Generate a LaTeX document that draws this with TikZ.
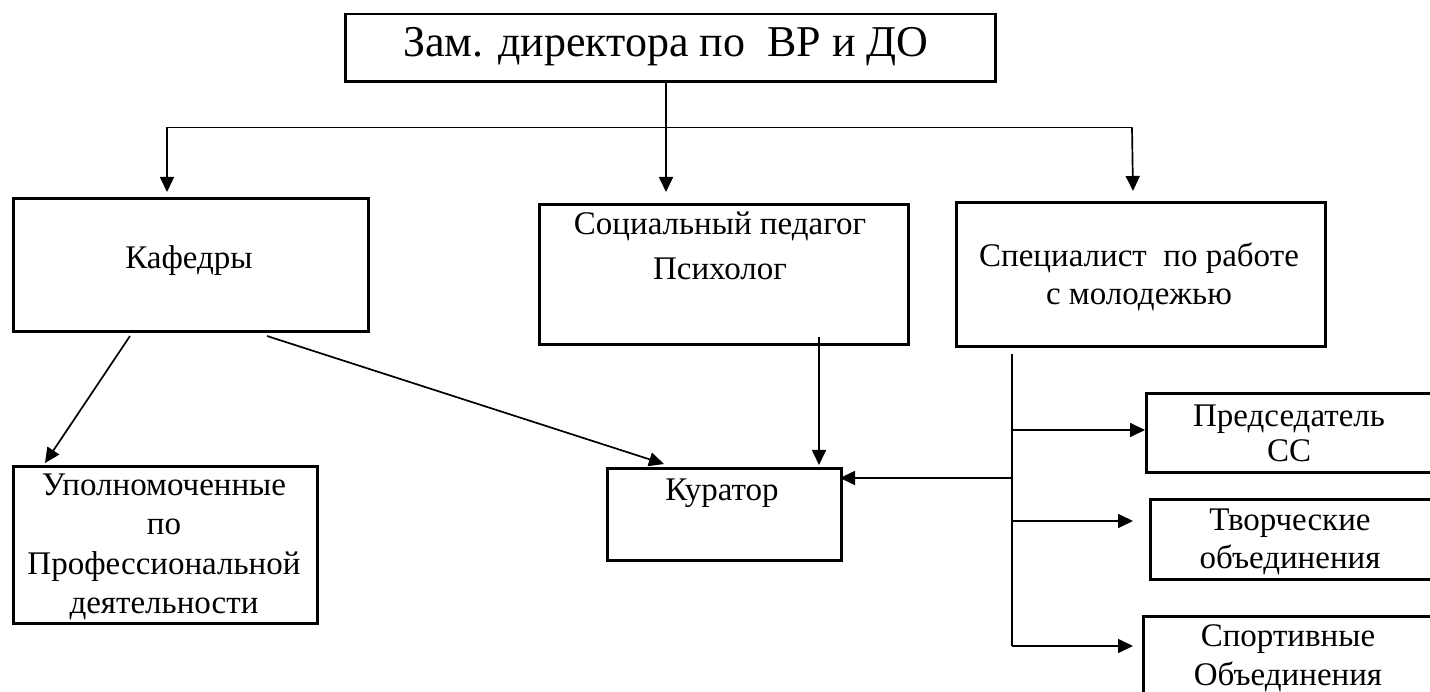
\documentclass[tikz,border=0pt]{standalone}
\usepackage{fontspec}
\setmainfont{Liberation Serif}
\usetikzlibrary{arrows.meta}
\begin{document}
\begin{tikzpicture}[x=1pt,y=-1pt,
  box/.style={draw=black,line width=2.6pt,rectangle,inner sep=0pt,anchor=north west},
  txt/.style={align=center,inner sep=0pt,font=\fontsize{33}{39}\selectfont},
  conn/.style={draw=black,line width=1.7pt},
  arr/.style={conn,-{Triangle[length=15pt,width=14pt]}}]
\useasboundingbox (0,0) rectangle (1430,692);
\fill[white] (0,0) rectangle (1430,692);
% boxes
\node[box,minimum width=650pt,minimum height=67.3pt] (top) at (344,12.7) {};
\node[box,minimum width=355pt,minimum height=133.5pt] (kaf) at (12,197) {};
\node[box,minimum width=369pt,minimum height=140pt] (soc) at (538,203) {};
\node[box,minimum width=369pt,minimum height=144pt] (spec) at (955,201) {};
\node[box,minimum width=304pt,minimum height=157pt] (upol) at (12,465) {};
\node[box,minimum width=234pt,minimum height=92pt] (kur) at (606,467) {};
\node[box,minimum width=300pt,minimum height=79pt] (pred) at (1145,392) {};
\node[box,minimum width=300pt,minimum height=80pt] (tvor) at (1149,498) {};
\node[box,minimum width=300pt,minimum height=90pt] (sport) at (1142,615) {};
% texts
\node[txt,font=\fontsize{44}{50}\selectfont] (ttop) at (666,47) {Зам. директора по\ \ ВР и ДО};
\node[txt] (tkaf) at (189,261) {Кафедры};
\node[txt,font=\fontsize{33}{45}\selectfont] (tsoc) at (720,246) {Социальный педагог\\Психолог};
\node[txt,font=\fontsize{33}{38}\selectfont] (tspec) at (1139,277) {Специалист\ \ по работе\\с молодежью};
\node[txt,font=\fontsize{33}{39.3}\selectfont] (tupol) at (164,547) {Уполномоченные\\по\\Профессиональной\\деятельности};
\node[txt] (tkur) at (722,493) {Куратор};
\node[txt,font=\fontsize{33}{35}\selectfont] (tpred) at (1289,433) {Председатель\\СС};
\node[txt,font=\fontsize{33}{38}\selectfont] (ttvor) at (1290,542) {Творческие\\объединения};
\node[txt,font=\fontsize{33}{39}\selectfont] (tsport) at (1288,658) {Спортивные\\Объединения};
% connector points
\coordinate (topb) at (666,80);
\coordinate (midtip) at (666,192);
\coordinate (hl) at (167,127.5);
\coordinate (hr) at (1132,127.5);
\coordinate (ltip) at (167,192);
\coordinate (rtip) at (1133,191);
\coordinate (k1) at (130,336);
\coordinate (k1tip) at (45,463);
\coordinate (k2) at (267,336);
\coordinate (k2tip) at (664,464);
\coordinate (s1) at (819,337);
\coordinate (s1tip) at (819,465);
\coordinate (vtop) at (1012,354);
\coordinate (vbot) at (1012,646);
\coordinate (b1) at (1012,430);
\coordinate (b1tip) at (1145,430);
\coordinate (b2) at (1012,478);
\coordinate (b2tip) at (840,478);
\coordinate (b3) at (1012,521);
\coordinate (b3tip) at (1133,521);
\coordinate (b4tip) at (1133,646);
% connectors
\draw[arr] (topb) -- (midtip);
\draw[conn] (hl) -- (hr);
\draw[arr] (hl) -- (ltip);
\draw[arr] (hr) -- (rtip);
\draw[arr] (k1) -- (k1tip);
\draw[arr] (k2) -- (k2tip);
\draw[arr] (s1) -- (s1tip);
\draw[conn] (vtop) -- (vbot);
\draw[arr] (b1) -- (b1tip);
\draw[arr] (b2) -- (b2tip);
\draw[arr] (b3) -- (b3tip);
\draw[arr] (vbot) -- (b4tip);
\end{tikzpicture}
\end{document}
